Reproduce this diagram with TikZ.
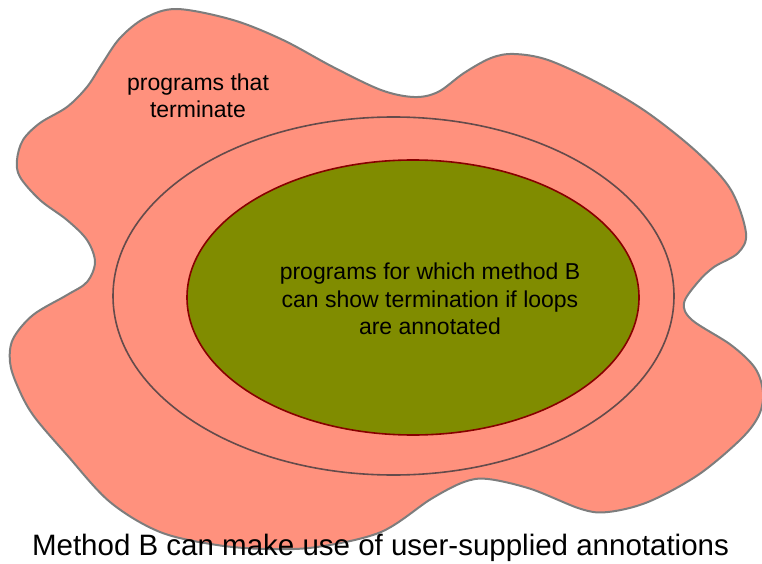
\documentclass[tikz,border=0pt]{standalone}
\usepackage{fontspec}
\setmainfont{Liberation Sans}
\definecolor{salmonfill}{RGB}{255,145,125}
\definecolor{olivefill}{RGB}{128,140,0}
\definecolor{blobgray}{RGB}{125,125,125}
\definecolor{ringgray}{RGB}{100,75,75}
\definecolor{corered}{RGB}{135,0,0}
\begin{document}
\begin{tikzpicture}[x=1pt,y=-1pt,
  blobline/.style={draw=blobgray, line width=2pt, fill=salmonfill},
  ringline/.style={draw=ringgray, line width=1.6pt},
  coreline/.style={draw=corered, line width=1.6pt, fill=olivefill},
  label/.style={align=center, font=\fontsize{23}{27.5}\selectfont, text=black, inner sep=0pt},
  caption/.style={font=\fontsize{29.5}{34}\selectfont, text=black, inner sep=0pt}]
\useasboundingbox (0,0) rectangle (762,564);
% outer blob: all terminating programs
\draw[blobline] plot[smooth cycle, tension=0.55] coordinates {
  (177,9) (233,20) (283,40) (333,67) (381,90) (414,97) (438,92) (464,73)
  (491,58) (514,54) (548,60) (598,83) (648,113) (698,153) (731,190) (746,233)
  (738,253) (714,267) (698,282) (684,303) (692,320) (731,345) (755,368)
  (763,392) (759,415) (741,439) (698,475) (648,502) (608,512) (581,509)
  (531,489) (488,479) (464,482) (431,499) (381,532) (317,547) (267,549)
  (217,545) (160,532) (110,502) (67,455) (33,415) (17,385) (10,362) (13,339)
  (33,315) (67,295) (87,282) (95,262) (87,240) (67,220) (40,200) (20,177)
  (17,160) (23,140) (40,123) (67,107) (87,87) (102,64) (120,38) (145,18)};
% ring around the annotated region
\draw[ringline] (393.5,296) ellipse [x radius=280.5pt, y radius=179pt];
% core: method B with annotations
\draw[coreline] (413,297.5) ellipse [x radius=226pt, y radius=137.5pt];
\node[label] (terminate) at (198,96) {programs that\\terminate};
\node[label] (methodb) at (430,299) {programs for which method B\\can show termination if loops\\are annotated};
\node[caption] (title) at (380.5,548) {Method B can make use of user-supplied annotations};
\end{tikzpicture}
\end{document}
